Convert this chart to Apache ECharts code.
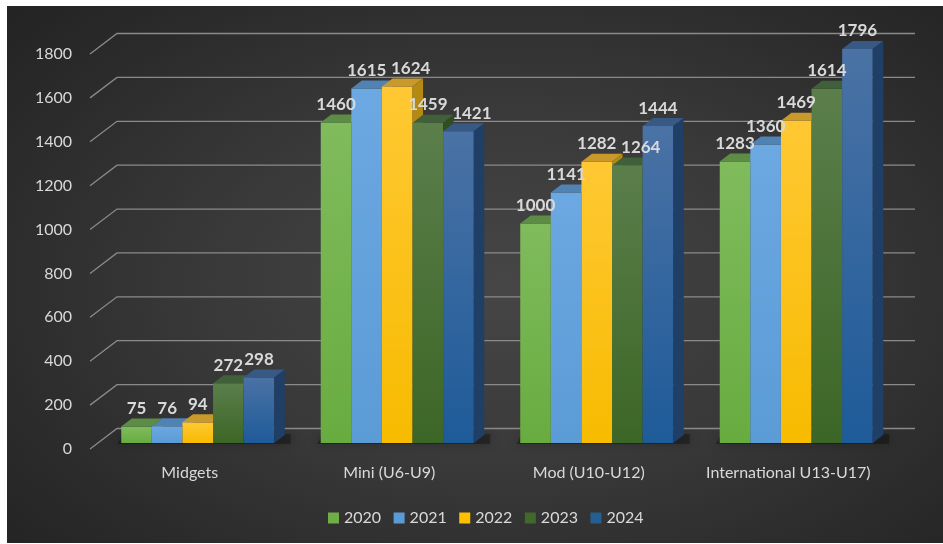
<!DOCTYPE html>
<html>
<head>
<meta charset="utf-8">
<script src="https://cdn.jsdelivr.net/npm/echarts@6/dist/echarts.min.js"></script>
<style>
  html, body { margin: 0; padding: 0; background: #ffffff; }
  #bg { position: absolute; left: 7px; top: 6px; right: 0; bottom: 1px;
        background: radial-gradient(ellipse 70% 75% at 53% 52%, #464646 0%, #393939 45%, #2b2b2b 80%, #242424 100%); }
  #chart { position: absolute; left: 0; top: 0; width: 943px; height: 544px; }
</style>
</head>
<body>
<div id="bg"></div>
<div id="chart"></div>
<script>
const categories = ['Midgets', 'Mini (U6-U9)', 'Mod (U10-U12)', 'International U13-U17)'];
const years = ['2020', '2021', '2022', '2023', '2024'];
const values2020 = [75, 1460, 1000, 1283];
const values2021 = [76, 1615, 1141, 1360];
const values2022 = [94, 1624, 1282, 1469];
const values2023 = [272, 1459, 1264, 1614];
const values2024 = [298, 1421, 1444, 1796];
const yTicks = [0, 200, 400, 600, 800, 1000, 1200, 1400, 1600, 1800];

const allValues = [values2020, values2021, values2022, values2023, values2024];

// styles
const legendColors = ['#70ad47', '#5b9bd5', '#ffc000', '#43682b', '#255e91'];
const frontTop =    ['#80bb5c', '#6ca8e2', '#ffc833', '#5b7e4b', '#4a72a5'];
const frontBottom = ['#68ac40', '#5b9bd6', '#f7bb00', '#3c6626', '#1e5b99'];
const topFace =     ['#5d8c47', '#5182b4', '#c9992b', '#40603a', '#385983'];
const sideFace =    ['#4f7d36', '#3f73a8', '#b48a12', '#304d24', '#1f3f66'];

const TXT = '#d9d9d9';
const FONT = 'Lato, "Open Sans", sans-serif';
const LABEL_FONT = 'bold 17px ' + FONT;
const SHIFT_X = 8, SHIFT_Y = -6;      // bar plane offset from front plane
const DEPTH_X = 10.5, DEPTH_Y = -8;   // bar depth
const WALL_X = 27, WALL_Y = -20.5;    // back wall offset
const GROUP_FRAC = 0.767;
const LABEL_LIFT = 18, LABEL_GAP = 8;

function barGeom(api, cat, val, s) {
  const base = api.coord([cat, 0]);
  const top = api.coord([cat, val]);
  const bandW = api.size([1, 0])[0];
  const bw = bandW * GROUP_FRAC / 5;
  const x0 = base[0] - 2.5 * bw + s * bw + SHIFT_X;
  return { x0: x0, bw: bw, yb: base[1] + SHIFT_Y, yt: top[1] + SHIFT_Y };
}

function textW(t) { return echarts.format.getTextRect ? echarts.format.getTextRect(t, LABEL_FONT).width : t.length * 9; }

// label positions within a category, shifting right when a label would collide with the previous one
function labelPositions(api, cat) {
  const out = [];
  for (let s = 0; s < years.length; s++) {
    const v = allValues[s][cat];
    const g = barGeom(api, cat, v, s);
    const t = String(v);
    const w = t.length * 9;
    let x = g.x0 + g.bw / 2, y = g.yt - LABEL_LIFT;
    if (s > 0) {
      const p = out[s - 1];
      if (Math.abs(p.y - y) < 15 && (x - p.x) < (p.w + w) / 2) x = p.x + (p.w + w) / 2 + LABEL_GAP;
    }
    out.push({ x: x, y: y, w: w });
  }
  return out;
}

const series = [];

// gridlines (3D walls)
series.push({
  type: 'custom', name: 'grid3d', z: 1, silent: true,
  data: yTicks.map(v => [0, v]),
  encode: { x: 0, y: 1 },
  renderItem: function (params, api) {
    const cs = params.coordSys;
    const y = api.coord([0, api.value(1)])[1];
    return {
      type: 'polyline',
      shape: { points: [[cs.x, y], [cs.x + WALL_X, y + WALL_Y], [cs.x + cs.width + WALL_X, y + WALL_Y]] },
      style: { stroke: '#8a8a8a', lineWidth: 1.3, fill: null }
    };
  }
});

// floor shadows
series.push({
  type: 'custom', name: 'shadow', z: 2, silent: true,
  data: categories.map((c, i) => [i, 0]),
  encode: { x: 0, y: 1 },
  renderItem: function (params, api) {
    const cat = api.value(0);
    const g0 = barGeom(api, cat, 0, 0);
    const g4 = barGeom(api, cat, 0, 4);
    const xl = g0.x0 - 4, xr = g4.x0 + g4.bw + DEPTH_X + 6;
    return {
      type: 'polygon',
      shape: { points: [[xl, g0.yb + 1], [xr, g0.yb + 1], [xr, g0.yb - 9], [xl + 6, g0.yb - 9]] },
      style: { fill: 'rgba(0,0,0,0.3)', shadowBlur: 10, shadowColor: 'rgba(0,0,0,0.7)' }
    };
  }
});

years.forEach((yr, s) => {
  series.push({
    type: 'custom', name: yr, z: 3,
    itemStyle: { color: legendColors[s] },
    data: categories.map((c, i) => [i, allValues[s][i]]),
    encode: { x: 0, y: 1 },
    renderItem: function (params, api) {
      const g = barGeom(api, api.value(0), api.value(1), s);
      const x0 = g.x0, x1 = g.x0 + g.bw;
      return {
        type: 'group',
        children: [
          { type: 'rect', shape: { x: x0, y: g.yt, width: g.bw, height: g.yb - g.yt },
            style: { fill: new echarts.graphic.LinearGradient(0, 0, 0, 1, [
              { offset: 0, color: frontTop[s] }, { offset: 1, color: frontBottom[s] }]) } },
          { type: 'polygon', shape: { points: [[x0, g.yt], [x1, g.yt], [x1 + DEPTH_X, g.yt + DEPTH_Y], [x0 + DEPTH_X, g.yt + DEPTH_Y]] },
            style: { fill: topFace[s] } },
          { type: 'polygon', shape: { points: [[x1, g.yt], [x1 + DEPTH_X, g.yt + DEPTH_Y], [x1 + DEPTH_X, g.yb + DEPTH_Y], [x1, g.yb]] },
            style: { fill: sideFace[s] } }
        ]
      };
    }
  });
});

// data labels
const labelData = [];
categories.forEach((c, i) => { years.forEach((yr, s) => { labelData.push([i, allValues[s][i], s]); }); });
series.push({
  type: 'custom', name: 'labels', z: 5, silent: true,
  data: labelData,
  encode: { x: 0, y: 1 },
  renderItem: function (params, api) {
    const pos = labelPositions(api, api.value(0))[api.value(2)];
    return {
      type: 'text',
      style: { x: pos.x, y: pos.y, text: String(api.value(1)), align: 'center', verticalAlign: 'middle',
               fill: TXT, font: LABEL_FONT }
    };
  }
});

const chart = echarts.init(document.getElementById('chart'), null, { renderer: 'canvas' });
chart.setOption({
  backgroundColor: 'transparent',
  animation: false,
  grid: { left: 90, right: 55, top: 54, bottom: 95 },
  legend: {
    data: years, left: 323, top: 505, icon: 'rect', itemWidth: 11, itemHeight: 11, itemGap: 12.5,
    textStyle: { color: TXT, fontSize: 16, fontFamily: FONT }
  },
  xAxis: {
    type: 'category', data: categories,
    axisLine: { show: false }, axisTick: { show: false }, splitLine: { show: false },
    axisLabel: { color: TXT, fontSize: 16, fontFamily: FONT, margin: 16, interval: 0 }
  },
  yAxis: {
    type: 'value', min: 0, max: 1800, interval: 200,
    axisLine: { show: false }, axisTick: { show: false }, splitLine: { show: false },
    axisLabel: { color: TXT, fontSize: 16, fontFamily: FONT, margin: 18, formatter: v => String(v) }
  },
  series: series
});
</script>
</body>
</html>
